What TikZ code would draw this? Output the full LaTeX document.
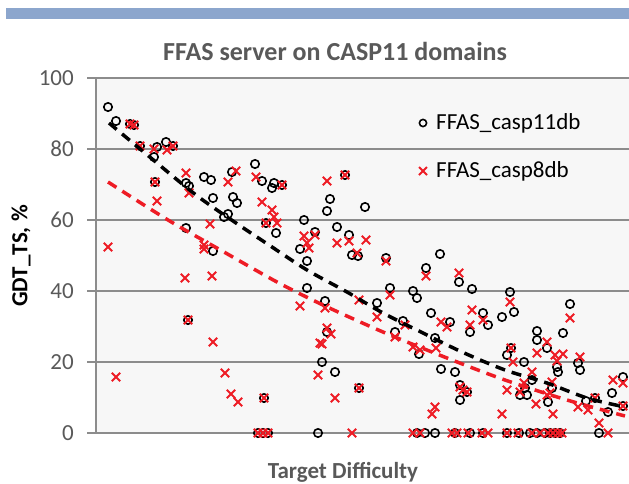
\documentclass[tikz,border=0pt]{standalone}
\usepackage{fontspec}
\setmainfont{Carlito}
\definecolor{txtgray}{HTML}{595959}
\definecolor{gridgray}{HTML}{8C8C8C}
\definecolor{plotbg}{HTML}{F7F7F7}
\definecolor{barblue}{HTML}{8CA6CD}
\definecolor{mred}{HTML}{EE1C25}
\tikzset{
  gridline/.style={draw=gridgray, line width=1.6pt},
  ticklbl/.style={text=txtgray, font=\fontsize{23}{23}\selectfont, anchor=east, inner sep=0pt},
  circ/.style={draw=black, line width=1.6pt},
  crs/.style={draw=mred, line width=1.8pt},
  trend/.style={line width=3.5pt, dash pattern=on 10pt off 7pt},
}
\begin{document}
\begin{tikzpicture}[x=1pt,y=-1pt]
\useasboundingbox (0,0) rectangle (629,483);
\fill[white] (0,0) rectangle (629,483);
\fill[barblue] (6,8) rectangle (629,19);
\fill[plotbg] (96,78) rectangle (629,433);
% gridlines and tick labels
\foreach \v in {0,20,40,60,80,100}{
  \pgfmathsetmacro{\yy}{433-3.55*\v}
  \draw[gridline] (87,\yy) -- (629,\yy);
  \node[ticklbl] (tick\v) at (74,\yy) {\v};
}
\draw[gridline] (96,78) -- (96,433);
% title and axis labels
\node[text=txtgray, font=\fontsize{26}{26}\selectfont\bfseries, anchor=base west, inner sep=0pt] (title) at (163,60) {FFAS server on CASP11 domains};
\node[text=black, font=\fontsize{23}{23}\selectfont\bfseries, rotate=90] (ylab) at (21,256) {GDT\_TS, \%};
\node[text=txtgray, font=\fontsize{23}{23}\selectfont\bfseries, anchor=base] (xlab) at (343,478) {Target Difficulty};
% circles (FFAS_casp11db)
\foreach \x/\y in {108/107,116/121,130/124,134/125,140/146,154/157,157/147,166/142,173/146,155/182,
 186/183,189/186,204/177,211/180,213/198,232/172,233/197,237/203,224/217,228/214,186/228,213/251,
 255/164,262/181,272/188,274/183,282/185,266/223,276/233,188/320,264/398,258/433,263/433,268/433,
 304/220,315/232,300/249,307/261,307/288,325/301,327/332,322/362,335/372,359/388,318/433,
 330/199,327/211,365/207,345/175,337/227,349/235,352/255,358/256,386/258,440/254,
 377/303,390/288,403/321,395/332,413/291,417/298,426/268,431/313,419/354,435/338,441/369,
 459/282,472/289,510/292,483/313,488/325,502/317,514/312,470/332,450/322,
 570/304,563/333,537/331,537/340,547/348,511/348,507/355,524/362,532/380,525/388,520/395,527/395,
 557/367,558/372,552/388,548/402,578/363,580/370,455/372,460/385,460/400,467/392,
 586/401,595/398,599/433,612/393,623/377,608/412,623/406,
 417/433,425/433,435/433,455/433,470/433,483/433,507/433,519/433,530/433,537/433,545/433,550/433,555/433,560/433}
  \draw[circ] (\x,\y) circle[radius=4.2];
% crosses (FFAS_casp8db)
\foreach \x/\y in {130/124,134/125,140/146,154/149,167/150,173/146,155/182,157/201,186/173,189/193,
 228/182,236/171,210/224,108/247,204/245,204/249,256/177,262/202,272/210,274/217,266/223,277/223,282/185,
 185/278,212/276,188/320,213/342,116/377,225/373,231/394,238/402,264/398,258/433,263/433,268/433,
 304/236,307/243,309/248,300/306,318/375,320/343,325/308,327/328,331/334,322/344,335/398,359/388,
 359/300,377/317,390/295,386/261,405/325,395/337,426/276,413/347,420/350,436/348,441/322,435/407,432/414,
 327/181,345/175,315/235,337/243,349/241,366/240,357/253,
 459/273,472/310,483/320,510/302,470/325,447/327,570/318,547/342,537/353,511/348,513/362,532/372,
 524/383,520/392,507/390,502/414,536/404,555/355,563/354,557/361,552/382,550/393,547/395,553/414,
 580/357,460/387,463/390,467/392,578/407,588/410,595/398,599/423,613/380,623/383,623/406,
 352/433,413/433,420/433,452/433,457/433,468/433,482/433,488/433,507/433,518/433,532/433,540/433,
 548/433,553/433,558/433,562/433,608/433}
  \draw[crs] ({\x-4.2},{\y-4.2}) -- ({\x+4.2},{\y+4.2}) ({\x-4.2},{\y+4.2}) -- ({\x+4.2},{\y-4.2});
% trend lines
\draw[trend, black] plot[smooth] coordinates {(109,123) (151,158) (196,195) (236,223) (269,245) (307,270)
 (347,292) (383,313) (423,333) (462,352) (505,370) (547,383) (587,398) (625,407)};
\draw[trend, mred] plot[smooth] coordinates {(108,182) (168,220) (224,252) (277,282) (323,305) (383,332)
 (447,358) (505,380) (567,400) (625,416)};
% legend
\coordinate (lgc) at (423,123);
\coordinate (lgx) at (423,171);
\draw[circ] (lgc) circle[radius=3.6];
\draw[crs] ([shift={(-4,-4)}]lgx) -- ([shift={(4,4)}]lgx) ([shift={(-4,4)}]lgx) -- ([shift={(4,-4)}]lgx);
\node[anchor=west, font=\fontsize{23}{23}\selectfont, inner sep=0pt] (lg1) at (436,123) {FFAS\_casp11db};
\node[anchor=west, font=\fontsize{23}{23}\selectfont, inner sep=0pt] (lg2) at (436,171) {FFAS\_casp8db};
\end{tikzpicture}
\end{document}
